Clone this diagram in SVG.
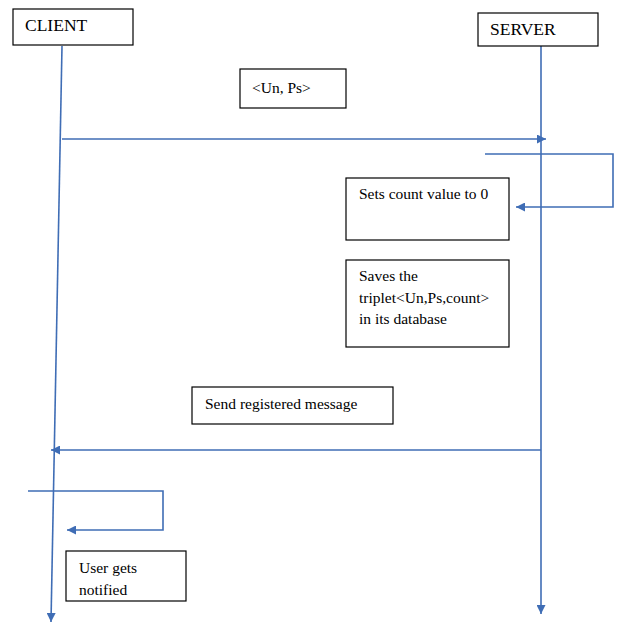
<svg xmlns="http://www.w3.org/2000/svg" width="618" height="624" viewBox="0 0 618 624">
<style>
.box{fill:#fff;stroke:#000;stroke-width:1.2}
.t{font-family:"Liberation Serif","Times New Roman",serif;font-size:15.5px;fill:#000}
.h{font-size:17.5px}
.ln{fill:none;stroke:#3f6db5;stroke-width:1.6}
</style>
<defs>
<marker id="ah" viewBox="0 0 10 10" refX="10" refY="5" markerWidth="10" markerHeight="9" markerUnits="userSpaceOnUse" orient="auto">
<path d="M0,0 L10,5 L0,10 z" fill="#3f6db5"/>
</marker>
</defs>
<g id="connectors">
<path class="ln" d="M62,46 L51,622" marker-end="url(#ah)"/>
<path class="ln" d="M541,46 L541,614" marker-end="url(#ah)"/>
<path class="ln" d="M62,139 L546,139" marker-end="url(#ah)"/>
<path class="ln" d="M485,154 L613,154 L613,207 L516,207" marker-end="url(#ah)"/>
<path class="ln" d="M541,450 L51,450" marker-end="url(#ah)"/>
<path class="ln" d="M28,491 L163,491 L163,530 L67,530" marker-end="url(#ah)"/>
</g>
<g id="client"><rect class="box" x="13" y="9" width="120" height="36"/><text class="t h" x="25" y="31">CLIENT</text></g>
<g id="server"><rect class="box" x="478" y="13" width="120" height="33"/><text class="t h" x="490" y="35">SERVER</text></g>
<g id="unps"><rect class="box" x="240" y="69" width="106" height="39"/><text class="t" x="252" y="93">&lt;Un, Ps&gt;</text></g>
<g id="setcount"><rect class="box" x="346" y="178" width="163" height="62"/><text class="t" x="359" y="199">Sets count value to 0</text></g>
<g id="saves"><rect class="box" x="346" y="260" width="163" height="87"/><text class="t" x="359" y="281">Saves the</text><text class="t" x="359" y="303">triplet&lt;Un,Ps,count&gt;</text><text class="t" x="359" y="324">in its database</text></g>
<g id="sendreg"><rect class="box" x="192" y="387" width="201" height="37"/><text class="t" x="205" y="409">Send registered message</text></g>
<g id="notified"><rect class="box" x="66" y="551" width="120" height="50"/><text class="t" x="79" y="573">User gets</text><text class="t" x="79" y="595">notified</text></g>
</svg>
